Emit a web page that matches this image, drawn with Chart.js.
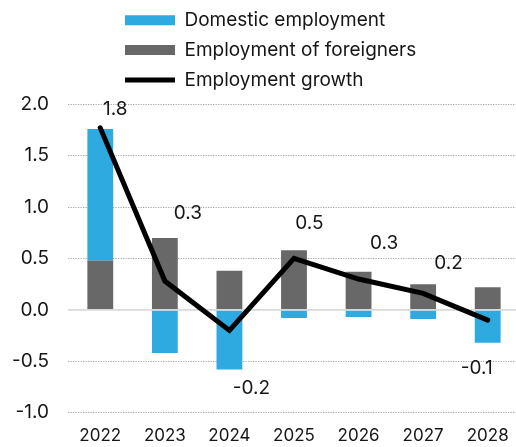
<!DOCTYPE html>
<html>
<head>
<meta charset="utf-8">
<script src="https://cdn.jsdelivr.net/npm/chart.js@4/dist/chart.umd.min.js"></script>
<style>
  html, body { margin: 0; padding: 0; background: #fff; overflow: hidden; }
  #wrap { width: 516px; height: 447px; overflow: hidden; }
</style>
</head>
<body>
<div id="wrap"><canvas id="myChart" width="520" height="447"></canvas></div>
<script>
// Employment growth and its components, percentage points
var years = ['2022', '2023', '2024', '2025', '2026', '2027', '2028'];
var domestic = [1.28, -0.42, -0.58, -0.08, -0.07, -0.09, -0.32];
var foreigners = [0.48, 0.70, 0.38, 0.58, 0.37, 0.25, 0.22];
var growth = [1.77, 0.28, -0.20, 0.50, 0.30, 0.16, -0.10];
var yTicks = [-1.0, -0.5, 0.0, 0.5, 1.0, 1.5, 2.0];

// where each value label sits relative to its point (px)
var labelShift = [[15, -18.5], [23, -68], [22, 57.5], [15.5, -35], [25.5, -36], [25.5, -30], [-11, 48]];

var blue = '#2eaae1';
var grey = '#686868';
var textColor = '#161616';
var fontFamily = 'Inter, "Noto Sans", sans-serif';

Chart.defaults.font.family = fontFamily;
Chart.defaults.font.size = 19;
Chart.defaults.color = textColor;

// legend rows are stacked in a column starting at a fixed x,
// with a little extra room below before the plot
var legendColumn = {
    id: 'legendColumn',
    afterInit: function (chart) {
        var lg = chart.legend;
        var fit = lg.fit;
        lg.fit = function () {
            fit.call(this);
            this.height += 4.8;
        };
    },
    afterLayout: function (chart) {
        chart.legend.left = 114.2;
    }
};

// value labels for the growth line
var growthLabels = {
    id: 'growthLabels',
    afterDatasetsDraw: function (chart) {
        var ctx = chart.ctx;
        var meta = chart.getDatasetMeta(0);
        ctx.save();
        ctx.font = '19px ' + fontFamily;
        ctx.fillStyle = textColor;
        ctx.textAlign = 'center';
        ctx.textBaseline = 'middle';
        meta.data.forEach(function (pt, i) {
            ctx.fillText(growth[i].toFixed(1), pt.x + labelShift[i][0], pt.y + labelShift[i][1]);
        });
        ctx.restore();
    }
};

var element = document.getElementById('myChart').getContext('2d');

var chartData = {
    labels: years,
    datasets: [{
        type: 'line',
        label: 'Employment growth',
        data: growth,
        stack: 'growth',
        borderColor: '#000',
        backgroundColor: '#000',
        borderWidth: 5,
        borderCapStyle: 'round',
        pointRadius: 0,
        pointHoverRadius: 0,
        pointStyle: 'line',
        tension: 0
    }, {
        type: 'bar',
        label: 'Employment of foreigners',
        data: foreigners,
        stack: 'emp',
        backgroundColor: grey,
        borderWidth: 0,
        pointStyle: 'rect',
        categoryPercentage: 1,
        barPercentage: 0.4
    }, {
        type: 'bar',
        label: 'Domestic employment',
        data: domestic,
        stack: 'emp',
        backgroundColor: blue,
        borderWidth: 0,
        pointStyle: 'rect',
        categoryPercentage: 1,
        barPercentage: 0.4
    }]
};

var chartOptions = {
    responsive: false,
    animation: false,
    events: [],
    layout: {
        padding: 0
    },
    plugins: {
        tooltip: { enabled: false },
        legend: {
            position: 'top',
            align: 'start',
            labels: {
                usePointStyle: true,
                pointStyleWidth: 50,
                boxHeight: 10,
                padding: 10.8,
                color: textColor,
                font: { size: 19 },
                // domestic, foreigners, then the line
                sort: function (a, b) { return b.datasetIndex - a.datasetIndex; }
            }
        }
    },
    scales: {
        x: {
            stacked: true,
            border: { display: false },
            grid: { display: false, drawTicks: false },
            ticks: { padding: 13, font: { size: 17 } },
            afterFit: function (axis) {
                axis.height = 34.3;
                axis.paddingLeft = 0;
                axis.paddingRight = 0;
            }
        },
        y: {
            stacked: true,
            min: -1,
            max: 2,
            border: {
                display: false,
                dash: function (c) { return c.tick && c.tick.value === 0 ? [] : [1.3, 1.2]; }
            },
            grid: {
                drawTicks: false,
                color: function (c) { return c.tick && c.tick.value === 0 ? '#d9d9d9' : '#aaaaaa'; },
                lineWidth: function (c) { return c.tick && c.tick.value === 0 ? 1.8 : 1; }
            },
            afterBuildTicks: function (axis) {
                axis.ticks = yTicks.map(function (v) { return { value: v }; });
            },
            afterFit: function (axis) {
                axis.width = 68;
            },
            ticks: {
                padding: 19,
                font: { size: 19 },
                callback: function (v) { return Number(v).toFixed(1); }
            }
        }
    }
};

var chart = new Chart(element, {
    data: chartData,
    options: chartOptions,
    plugins: [legendColumn, growthLabels]
});
</script>
</body>
</html>
